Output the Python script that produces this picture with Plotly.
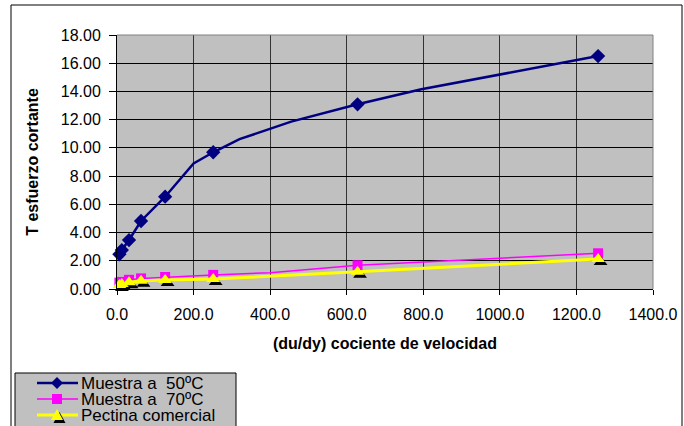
import plotly.graph_objects as go

# ---- data ----
rate = [6.3, 12.6, 31.4, 62.8, 125.7, 251.3, 628.3, 1256.6]
m50 = [2.46, 2.76, 3.47, 4.82, 6.54, 9.69, 13.09, 16.51]
m70 = [0.45, 0.50, 0.65, 0.75, 0.85, 1.00, 1.68, 2.53]
pectina = [0.28, 0.35, 0.48, 0.58, 0.64, 0.70, 1.23, 2.12]

# line vertices without markers (read from the bends of the lines)
m50_extra_x = [200, 320, 455, 795, 1000]
m50_extra_y = [8.9, 10.62, 11.86, 14.15, 15.2]
m70_extra_x = [400]
m70_extra_y = [1.15]

series_names = ["Muestra a\u00a0\u00a050ºC", "Muestra a\u00a0\u00a070ºC", "Pectina comercial"]
x_ticks = [0, 200, 400, 600, 800, 1000, 1200, 1400]
y_ticks = [0, 2, 4, 6, 8, 10, 12, 14, 16, 18]

FONT = "Liberation Sans, Arial, sans-serif"
C50, C70, CPEC = "#000080", "#FF00FF", "#FFFF00"

def merge(xs, ys, ex, ey, size):
    pts = [(x, y, size) for x, y in zip(xs, ys)] + [(x, y, 0) for x, y in zip(ex, ey)]
    pts.sort(key=lambda p: p[0])
    return [p[0] for p in pts], [p[1] for p in pts], [p[2] for p in pts]

bx, by, bs = merge(rate, m50, m50_extra_x, m50_extra_y, 11)
mx, my, ms = merge(rate, m70, m70_extra_x, m70_extra_y, 10)

W, H = 684, 426
L, R, T, B = 117, 31, 35, 137
pw, ph = W - L - R, H - T - B

fig = go.Figure()
fig.add_trace(go.Scatter(
    x=bx, y=by, mode="lines+markers", name=series_names[0],
    line=dict(color=C50, width=2.5),
    marker=dict(symbol="diamond", size=bs, color=C50, opacity=1, line=dict(width=0)),
    cliponaxis=False))
fig.add_trace(go.Scatter(
    x=mx, y=my, mode="lines+markers", name=series_names[1],
    line=dict(color=C70, width=1.5),
    marker=dict(symbol="square", size=ms, color=C70, opacity=1, line=dict(width=0)),
    cliponaxis=False))

# shadow of the triangles (offset by a few pixels right/down)
px_x = 1400 / pw
px_y = 18 / ph
fig.add_trace(go.Scatter(
    x=[v + 2.5 * px_x for v in rate], y=[v - 3 * px_y for v in pectina],
    mode="markers", showlegend=False, hoverinfo="skip",
    marker=dict(symbol="triangle-up", size=12, color="#000000", opacity=1, line=dict(width=0)),
    cliponaxis=False))
fig.add_trace(go.Scatter(
    x=rate, y=pectina, mode="lines+markers", name=series_names[2],
    line=dict(color=CPEC, width=3),
    marker=dict(symbol="triangle-up", size=12, color=CPEC, opacity=1, line=dict(width=0)),
    cliponaxis=False))

def px2paper_x(p):
    return (p - L) / pw

def px2paper_y(p):
    return (H - B - p) / ph

def path_px(points):
    s = "M " + " L ".join(f"{px2paper_x(a):.5f},{px2paper_y(b):.5f}" for a, b in points)
    return s + " Z"

shapes = [
    dict(type="line", xref="paper", yref="paper", x0=0, x1=1, y0=1, y1=1,
         line=dict(color="#808080", width=1)),
    dict(type="line", xref="paper", yref="paper", x0=1, x1=1, y0=0, y1=1,
         line=dict(color="#808080", width=1)),
    # outer chart border
    dict(type="rect", xref="paper", yref="paper",
         x0=px2paper_x(11), x1=px2paper_x(682), y0=px2paper_y(440), y1=px2paper_y(5),
         line=dict(color="#000000", width=1), fillcolor="rgba(0,0,0,0)", layer="below"),
    # legend box
    dict(type="rect", xref="paper", yref="paper",
         x0=px2paper_x(15), x1=px2paper_x(236), y0=px2paper_y(440), y1=px2paper_y(373),
         line=dict(color="#000000", width=1), fillcolor="#C0C0C0"),
]
annotations = []

leg_rows = [383, 399, 415]
leg_colors = [C50, C70, CPEC]
leg_widths = [2.5, 1.5, 3]
for i, (yy, col, lw) in enumerate(zip(leg_rows, leg_colors, leg_widths)):
    shapes.append(dict(type="line", xref="paper", yref="paper",
                       x0=px2paper_x(37), x1=px2paper_x(78),
                       y0=px2paper_y(yy), y1=px2paper_y(yy),
                       line=dict(color=col, width=lw)))
    cx = 57
    if i == 0:
        pts = [(cx, yy - 6), (cx + 6, yy), (cx, yy + 6), (cx - 6, yy)]
    elif i == 1:
        pts = [(cx - 5, yy - 5), (cx + 5, yy - 5), (cx + 5, yy + 5), (cx - 5, yy + 5)]
    else:
        shapes.append(dict(type="path", xref="paper", yref="paper",
                           path=path_px([(cx + 2.5, yy - 3), (cx + 8.5, yy + 8), (cx - 3.5, yy + 8)]),
                           fillcolor="#000000", line=dict(width=0)))
        pts = [(cx, yy - 6), (cx + 6, yy + 5), (cx - 6, yy + 5)]
    shapes.append(dict(type="path", xref="paper", yref="paper", path=path_px(pts),
                       fillcolor=col, line=dict(width=0)))
    annotations.append(dict(xref="paper", yref="paper",
                            x=px2paper_x(79), y=px2paper_y(yy),
                            xanchor="left", yanchor="middle", showarrow=False,
                            text=series_names[i],
                            font=dict(family=FONT, size=17, color="#000000")))

fig.update_layout(
    width=W, height=H,
    margin=dict(l=L, r=R, t=T, b=B, pad=0, autoexpand=False),
    paper_bgcolor="#FFFFFF",
    plot_bgcolor="#C0C0C0",
    font=dict(family=FONT, size=16, color="#000000"),
    showlegend=False,
    xaxis=dict(
        range=[0, 1400], tickvals=x_ticks, tickformat=".1f",
        showgrid=True, gridcolor="#333333", gridwidth=1,
        zeroline=False, showline=True, linecolor="#000000", linewidth=1,
        ticks="outside", ticklen=5, tickcolor="#000000",
        ticklabelstandoff=6, automargin=False,
        title=dict(text="<b>(du/dy) cociente de velocidad</b>", standoff=15,
                   font=dict(family=FONT, size=16)),
        tickfont=dict(family=FONT, size=16),
    ),
    yaxis=dict(
        range=[0, 18], tickvals=y_ticks, tickformat=".2f",
        showgrid=True, gridcolor="#000000", gridwidth=1,
        zeroline=False, showline=True, linecolor="#000000", linewidth=1,
        ticks="outside", ticklen=7, tickcolor="#000000",
        ticklabelstandoff=5, automargin=False,
        title=dict(text="<b>T esfuerzo cortante</b>", standoff=18,
                   font=dict(family=FONT, size=16)),
        tickfont=dict(family=FONT, size=16),
    ),
    shapes=shapes,
    annotations=annotations,
)

fig.write_html(
    "out.html",
    config={"displayModeBar": False},
    post_script="document.body.style.margin='0';document.body.style.padding='0';",
)
